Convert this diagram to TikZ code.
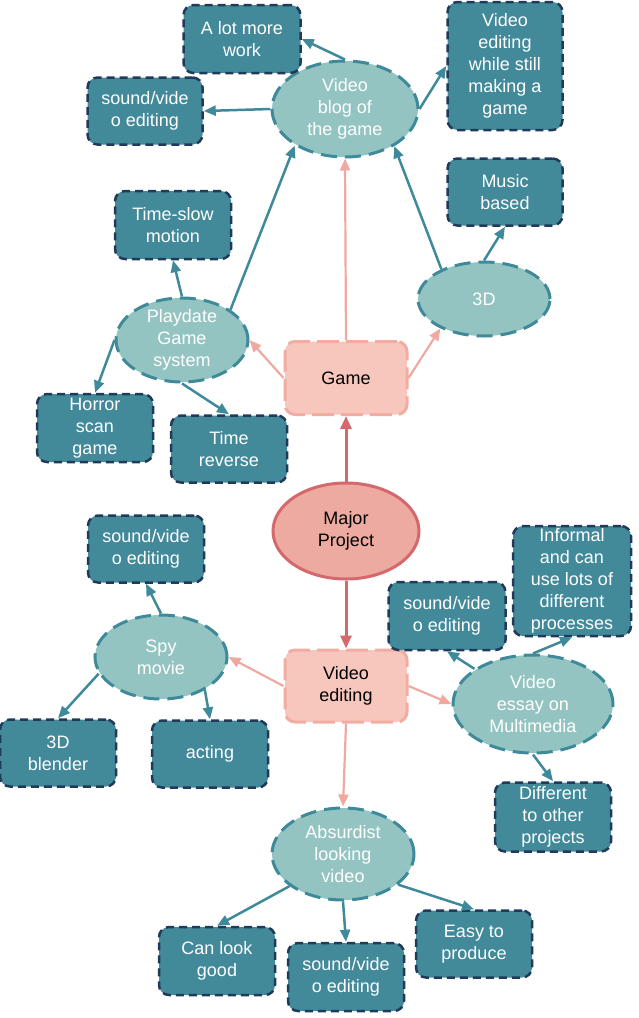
\documentclass[tikz,border=0pt]{standalone}
\usepackage{fontspec}
\setmainfont{Liberation Sans}
\usetikzlibrary{shapes.geometric,arrows.meta}
\definecolor{boxfill}{HTML}{42899A}
\definecolor{navy}{HTML}{213A5A}
\definecolor{ellfill}{HTML}{94C4C1}
\definecolor{tealline}{HTML}{3E8A9A}
\definecolor{pinkfill}{HTML}{F7C6BD}
\definecolor{pinkline}{HTML}{F2ADA3}
\definecolor{pinkarrow}{HTML}{F0A9A0}
\definecolor{majorfill}{HTML}{EDAAA0}
\definecolor{redline}{HTML}{D4686C}
\begin{document}
\begin{tikzpicture}[x=1pt,y=-1pt,
  txt/.style={align=center,font=\fontsize{18}{22}\selectfont},
  tbox/.style={txt,draw=navy,fill=boxfill,rounded corners=10pt,line width=2.5pt,
    dash pattern=on 8pt off 5pt,text=white,minimum width=116pt,minimum height=68pt,inner sep=0pt},
  tell/.style={txt,ellipse,draw=tealline,fill=ellfill,line width=3pt,
    dash pattern=on 16pt off 8pt,text=white,inner sep=-10pt},
  pbox/.style={txt,draw=pinkline,fill=pinkfill,rounded corners=10pt,line width=3pt,
    dash pattern=on 22pt off 7pt,text=black,minimum width=122pt,minimum height=73pt,inner sep=0pt},
  major/.style={txt,ellipse,draw=redline,fill=majorfill,line width=3pt,text=black,inner sep=-10pt},
  tarr/.style={draw=tealline,line width=2.5pt,-{Triangle[length=12pt,width=10pt]}},
  parr/.style={draw=pinkarrow,line width=2.2pt,-{Triangle[length=12pt,width=10pt]}},
  rarr/.style={draw=redline,line width=3pt,-{Triangle[length=13pt,width=11pt]}},
]
\useasboundingbox (0,0) rectangle (639,1018);

% main nodes
\node[major,minimum width=146pt,minimum height=96pt] (major) at (346,531) {Major\\Project};
\node[pbox] (game) at (346,378) {Game};
\node[pbox,minimum height=72pt] (vedit) at (346,686) {Video\\editing};

% ellipses
\node[tell,minimum width=146pt,minimum height=96pt] (vblog) at (345,109) {Video\\blog of\\the game};
\node[tell,minimum width=132pt,minimum height=74pt] (d3) at (484,299) {3D};
\node[tell,minimum width=132pt,minimum height=84pt] (play) at (182,340) {Playdate\\Game\\system};
\node[tell,minimum width=132pt,minimum height=84pt] (spy) at (161,657) {Spy\\movie};
\node[tell,minimum width=160pt,minimum height=98pt] (essay) at (533,704) {Video\\essay on\\Multimedia};
\node[tell,minimum width=142pt,minimum height=92pt] (absurd) at (343,854) {Absurdist\\looking\\video};

% boxes
\node[tbox,minimum width=117pt] (lotmore) at (242,39) {A lot more\\work};
\node[tbox,minimum width=115pt,minimum height=67pt] (sv1) at (145,111) {sound/vide\\o editing};
\node[tbox,minimum width=115pt,minimum height=128pt] (vedw) at (505,66) {Video\\editing\\while still\\making a\\game};
\node[tbox,minimum width=115pt,minimum height=67pt] (music) at (505,192) {Music\\based};
\node[tbox] (tslow) at (173,225) {Time-slow\\motion};
\node[tbox] (horror) at (95,428) {Horror\\scan\\game};
\node[tbox,minimum height=67pt] (trev) at (229,449) {Time\\reverse};
\node[tbox,minimum height=67pt] (sv2) at (146,549) {sound/vide\\o editing};
\node[tbox,minimum height=67pt] (blender) at (58,753) {3D\\blender};
\node[tbox,minimum height=67pt] (acting) at (210,754) {acting};
\node[tbox,minimum width=117pt] (sv3) at (447,616) {sound/vide\\o editing};
\node[tbox,minimum width=118pt,minimum height=110pt] (informal) at (572,581) {Informal\\and can\\use lots of\\different\\processes};
\node[tbox,minimum height=69pt] (diff) at (553,817) {Different\\to other\\projects};
\node[tbox] (canlook) at (217,961) {Can look\\good};
\node[tbox] (sv4) at (346,977) {sound/vide\\o editing};
\node[tbox,minimum height=67pt] (easy) at (474,944) {Easy to\\produce};

% connectors
\draw[rarr] (major.north) -- (game.south);
\draw[rarr] (major.south) -- (vedit.north);

\draw[parr] (game.north) -- (vblog.south);
\draw[parr] (game.west) -- (play.east);
\draw[parr] (game.east) -- (d3.214);
\draw[parr] (vedit.west) -- (spy.east);
\draw[parr] (vedit.east) -- (essay.west);
\draw[parr] (vedit.south) -- (absurd.north);

\draw[tarr] (vblog.north) -- (lotmore.east);
\draw[tarr] (vblog.west) -- (sv1.east);
\draw[tarr] (vblog.east) -- (vedw.west);
\draw[tarr] (d3.145) -- (vblog.-37);
\draw[tarr] (d3.north) -- (music.south);
\draw[tarr] (play.32) -- (vblog.216);
\draw[tarr] (play.north) -- (tslow.south);
\draw[tarr] (play.west) -- (horror.north);
\draw[tarr] (play.south) -- (trev.north);
\draw[tarr] (spy.north) -- (sv2.south);
\draw[tarr] (spy.195) -- (blender.north);
\draw[tarr] (spy.-37) -- (acting.north);
\draw[tarr] (essay.149) -- (sv3.south);
\draw[tarr] (essay.north) -- (informal.south);
\draw[tarr] (essay.south) -- (diff.north);
\draw[tarr] (absurd.211) -- (canlook.north);
\draw[tarr] (absurd.south) -- (sv4.north);
\draw[tarr] (absurd.-29) -- (easy.north);
\end{tikzpicture}
\end{document}
